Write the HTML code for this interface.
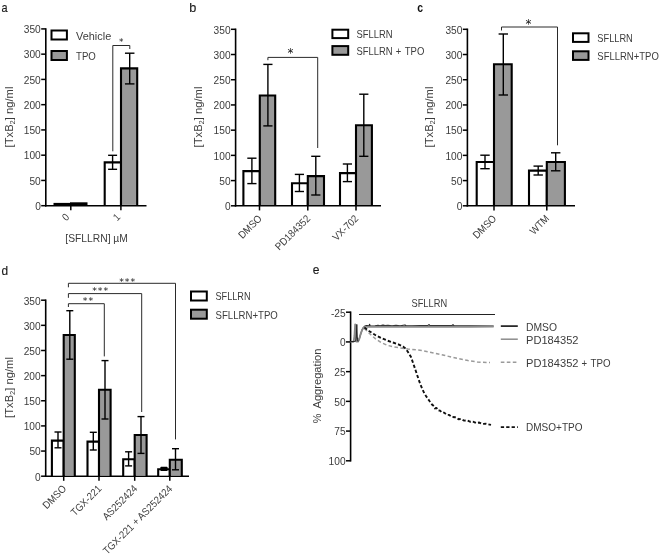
<!DOCTYPE html>
<html lang="en">
<head>
<meta charset="utf-8">
<title>Figure</title>
<style>
html,body{margin:0;padding:0;background:#fff;}
body{width:660px;height:555px;overflow:hidden;}
svg{display:block;}
svg text{font-family:"Liberation Sans","DejaVu Sans",sans-serif;}
</style>
</head>
<body>
<svg width="660" height="555" viewBox="0 0 660 555">
<rect x="0" y="0" width="660" height="555" fill="#fff"/>
<text x="1.5" y="12.3" font-size="12.7" text-anchor="start" fill="#1a1a1a" textLength="6.07" lengthAdjust="spacingAndGlyphs" stroke="#1a1a1a" stroke-width="0.15">a</text>
<line x1="45.8" y1="28.15" x2="45.8" y2="206.45" stroke="#000" stroke-width="1.6" />
<line x1="45" y1="205.7" x2="146.5" y2="205.7" stroke="#000" stroke-width="1.6" />
<line x1="41.2" y1="205.7" x2="45.8" y2="205.7" stroke="#000" stroke-width="1.5" />
<text x="40.8" y="210" font-size="10.6" text-anchor="end" fill="#3c3c3c" textLength="5.66" lengthAdjust="spacingAndGlyphs" >0</text>
<line x1="41.2" y1="180.44" x2="45.8" y2="180.44" stroke="#000" stroke-width="1.5" />
<text x="40.8" y="184.74" font-size="10.6" text-anchor="end" fill="#3c3c3c" textLength="11.32" lengthAdjust="spacingAndGlyphs" >50</text>
<line x1="41.2" y1="155.19" x2="45.8" y2="155.19" stroke="#000" stroke-width="1.5" />
<text x="40.8" y="159.49" font-size="10.6" text-anchor="end" fill="#3c3c3c" textLength="16.98" lengthAdjust="spacingAndGlyphs" >100</text>
<line x1="41.2" y1="129.93" x2="45.8" y2="129.93" stroke="#000" stroke-width="1.5" />
<text x="40.8" y="134.23" font-size="10.6" text-anchor="end" fill="#3c3c3c" textLength="16.98" lengthAdjust="spacingAndGlyphs" >150</text>
<line x1="41.2" y1="104.67" x2="45.8" y2="104.67" stroke="#000" stroke-width="1.5" />
<text x="40.8" y="108.97" font-size="10.6" text-anchor="end" fill="#3c3c3c" textLength="16.98" lengthAdjust="spacingAndGlyphs" >200</text>
<line x1="41.2" y1="79.41" x2="45.8" y2="79.41" stroke="#000" stroke-width="1.5" />
<text x="40.8" y="83.71" font-size="10.6" text-anchor="end" fill="#3c3c3c" textLength="16.98" lengthAdjust="spacingAndGlyphs" >250</text>
<line x1="41.2" y1="54.16" x2="45.8" y2="54.16" stroke="#000" stroke-width="1.5" />
<text x="40.8" y="58.46" font-size="10.6" text-anchor="end" fill="#3c3c3c" textLength="16.98" lengthAdjust="spacingAndGlyphs" >300</text>
<line x1="41.2" y1="28.9" x2="45.8" y2="28.9" stroke="#000" stroke-width="1.5" />
<text x="40.8" y="33.2" font-size="10.6" text-anchor="end" fill="#3c3c3c" textLength="16.98" lengthAdjust="spacingAndGlyphs" >350</text>
<line x1="70.8" y1="205.7" x2="70.8" y2="210.3" stroke="#000" stroke-width="1.5" />
<line x1="120.9" y1="205.7" x2="120.9" y2="210.3" stroke="#000" stroke-width="1.5" />
<rect x="53.5" y="202.9" width="17" height="2.4" fill="#000"/>
<rect x="70" y="202.3" width="17.5" height="3" fill="#000"/>
<rect x="104.7" y="162.35" width="16.3" height="42.55" fill="#fff"/>
<polyline points="104.7,205.7 104.7,162.35 121,162.35 121,205.7" fill="none" stroke="#000" stroke-width="2.1" stroke-linejoin="miter"/>
<rect x="121" y="68.4" width="16.2" height="136.5" fill="#999999"/>
<polyline points="121,205.7 121,68.4 137.2,68.4 137.2,205.7" fill="none" stroke="#000" stroke-width="2.1" stroke-linejoin="miter"/>
<line x1="112.6" y1="155.3" x2="112.6" y2="169.3" stroke="#000" stroke-width="1.4" />
<line x1="108.1" y1="155.3" x2="117.1" y2="155.3" stroke="#000" stroke-width="1.4" />
<line x1="108.1" y1="169.3" x2="117.1" y2="169.3" stroke="#000" stroke-width="1.4" />
<line x1="129.7" y1="53.2" x2="129.7" y2="83.9" stroke="#000" stroke-width="1.4" />
<line x1="124.95" y1="53.2" x2="134.45" y2="53.2" stroke="#000" stroke-width="1.4" />
<line x1="124.95" y1="83.9" x2="134.45" y2="83.9" stroke="#000" stroke-width="1.4" />
<polyline points="112.8,151.3 112.8,45.5 129.8,45.5 129.8,49" fill="none" stroke="#2a2a2a" stroke-width="1" />
<text x="118.9" y="44.65" font-size="8.8" fill="#111" letter-spacing="1.2" style="font-family:'DejaVu Sans',sans-serif">*</text>
<rect x="51.5" y="30.5" width="15.4" height="9" fill="#fff" stroke="#000" stroke-width="2"/>
<rect x="51.5" y="51" width="15.4" height="9" fill="#999999" stroke="#000" stroke-width="2"/>
<text x="76" y="39.5" font-size="10.5" text-anchor="start" fill="#3c3c3c" textLength="35.2" lengthAdjust="spacingAndGlyphs" >Vehicle</text>
<text x="76" y="60" font-size="10.5" text-anchor="start" fill="#3c3c3c" textLength="19.8" lengthAdjust="spacingAndGlyphs" >TPO</text>
<text x="66.3" y="221.5" font-size="10.5" text-anchor="start" fill="#3c3c3c" transform="rotate(-45 66.3 221.5)" textLength="5.26" lengthAdjust="spacingAndGlyphs" >0</text>
<text x="117.3" y="221.5" font-size="10.5" text-anchor="start" fill="#3c3c3c" transform="rotate(-45 117.3 221.5)" textLength="5.26" lengthAdjust="spacingAndGlyphs" >1</text>
<text x="65.3" y="241.8" font-size="10.8" text-anchor="start" fill="#3c3c3c" textLength="62.6" lengthAdjust="spacingAndGlyphs" >[SFLLRN] µM</text>
<text x="12.6" y="117" font-size="10.4" text-anchor="middle" fill="#3c3c3c" transform="rotate(-90 12.6 117)" textLength="60.8" lengthAdjust="spacingAndGlyphs">[TxB<tspan font-size="7" dy="2.2">2</tspan><tspan dy="-2.2">] ng/ml</tspan></text>
<text x="189.3" y="12.3" font-size="12.7" text-anchor="start" fill="#1a1a1a" stroke="#1a1a1a" stroke-width="0.15">b</text>
<line x1="235.6" y1="28.55" x2="235.6" y2="206.55" stroke="#000" stroke-width="1.6" />
<line x1="234.8" y1="205.8" x2="381" y2="205.8" stroke="#000" stroke-width="1.6" />
<line x1="231" y1="205.8" x2="235.6" y2="205.8" stroke="#000" stroke-width="1.5" />
<text x="230.6" y="210.1" font-size="10.6" text-anchor="end" fill="#3c3c3c" textLength="5.66" lengthAdjust="spacingAndGlyphs" >0</text>
<line x1="231" y1="180.59" x2="235.6" y2="180.59" stroke="#000" stroke-width="1.5" />
<text x="230.6" y="184.89" font-size="10.6" text-anchor="end" fill="#3c3c3c" textLength="11.32" lengthAdjust="spacingAndGlyphs" >50</text>
<line x1="231" y1="155.37" x2="235.6" y2="155.37" stroke="#000" stroke-width="1.5" />
<text x="230.6" y="159.67" font-size="10.6" text-anchor="end" fill="#3c3c3c" textLength="16.98" lengthAdjust="spacingAndGlyphs" >100</text>
<line x1="231" y1="130.16" x2="235.6" y2="130.16" stroke="#000" stroke-width="1.5" />
<text x="230.6" y="134.46" font-size="10.6" text-anchor="end" fill="#3c3c3c" textLength="16.98" lengthAdjust="spacingAndGlyphs" >150</text>
<line x1="231" y1="104.94" x2="235.6" y2="104.94" stroke="#000" stroke-width="1.5" />
<text x="230.6" y="109.24" font-size="10.6" text-anchor="end" fill="#3c3c3c" textLength="16.98" lengthAdjust="spacingAndGlyphs" >200</text>
<line x1="231" y1="79.73" x2="235.6" y2="79.73" stroke="#000" stroke-width="1.5" />
<text x="230.6" y="84.03" font-size="10.6" text-anchor="end" fill="#3c3c3c" textLength="16.98" lengthAdjust="spacingAndGlyphs" >250</text>
<line x1="231" y1="54.51" x2="235.6" y2="54.51" stroke="#000" stroke-width="1.5" />
<text x="230.6" y="58.81" font-size="10.6" text-anchor="end" fill="#3c3c3c" textLength="16.98" lengthAdjust="spacingAndGlyphs" >300</text>
<line x1="231" y1="29.3" x2="235.6" y2="29.3" stroke="#000" stroke-width="1.5" />
<text x="230.6" y="33.6" font-size="10.6" text-anchor="end" fill="#3c3c3c" textLength="16.98" lengthAdjust="spacingAndGlyphs" >350</text>
<line x1="259.5" y1="205.8" x2="259.5" y2="210.4" stroke="#000" stroke-width="1.5" />
<line x1="307.8" y1="205.8" x2="307.8" y2="210.4" stroke="#000" stroke-width="1.5" />
<line x1="356" y1="205.8" x2="356" y2="210.4" stroke="#000" stroke-width="1.5" />
<rect x="243.4" y="171.1" width="16.4" height="33.9" fill="#fff"/>
<polyline points="243.4,205.8 243.4,171.1 259.8,171.1 259.8,205.8" fill="none" stroke="#000" stroke-width="2.1" stroke-linejoin="miter"/>
<rect x="259.8" y="95.46" width="15.4" height="109.54" fill="#999999"/>
<polyline points="259.8,205.8 259.8,95.46 275.2,95.46 275.2,205.8" fill="none" stroke="#000" stroke-width="2.1" stroke-linejoin="miter"/>
<rect x="292" y="183.2" width="15.8" height="21.8" fill="#fff"/>
<polyline points="292,205.8 292,183.2 307.8,183.2 307.8,205.8" fill="none" stroke="#000" stroke-width="2.1" stroke-linejoin="miter"/>
<rect x="307.8" y="176.14" width="16.2" height="28.86" fill="#999999"/>
<polyline points="307.8,205.8 307.8,176.14 324,176.14 324,205.8" fill="none" stroke="#000" stroke-width="2.1" stroke-linejoin="miter"/>
<rect x="340" y="173.12" width="16" height="31.88" fill="#fff"/>
<polyline points="340,205.8 340,173.12 356,173.12 356,205.8" fill="none" stroke="#000" stroke-width="2.1" stroke-linejoin="miter"/>
<rect x="356" y="125.21" width="15.9" height="79.79" fill="#999999"/>
<polyline points="356,205.8 356,125.21 371.9,125.21 371.9,205.8" fill="none" stroke="#000" stroke-width="2.1" stroke-linejoin="miter"/>
<line x1="251.9" y1="158.2" x2="251.9" y2="183.6" stroke="#000" stroke-width="1.4" />
<line x1="247.3" y1="158.2" x2="256.5" y2="158.2" stroke="#000" stroke-width="1.4" />
<line x1="247.3" y1="183.6" x2="256.5" y2="183.6" stroke="#000" stroke-width="1.4" />
<line x1="267.9" y1="64.4" x2="267.9" y2="125.9" stroke="#000" stroke-width="1.4" />
<line x1="263.3" y1="64.4" x2="272.5" y2="64.4" stroke="#000" stroke-width="1.4" />
<line x1="263.3" y1="125.9" x2="272.5" y2="125.9" stroke="#000" stroke-width="1.4" />
<line x1="299.4" y1="174.4" x2="299.4" y2="191.5" stroke="#000" stroke-width="1.4" />
<line x1="294.8" y1="174.4" x2="304" y2="174.4" stroke="#000" stroke-width="1.4" />
<line x1="294.8" y1="191.5" x2="304" y2="191.5" stroke="#000" stroke-width="1.4" />
<line x1="315.8" y1="156.3" x2="315.8" y2="195" stroke="#000" stroke-width="1.4" />
<line x1="311.2" y1="156.3" x2="320.4" y2="156.3" stroke="#000" stroke-width="1.4" />
<line x1="311.2" y1="195" x2="320.4" y2="195" stroke="#000" stroke-width="1.4" />
<line x1="347.4" y1="164" x2="347.4" y2="181.6" stroke="#000" stroke-width="1.4" />
<line x1="342.8" y1="164" x2="352" y2="164" stroke="#000" stroke-width="1.4" />
<line x1="342.8" y1="181.6" x2="352" y2="181.6" stroke="#000" stroke-width="1.4" />
<line x1="363.8" y1="94.2" x2="363.8" y2="156.3" stroke="#000" stroke-width="1.4" />
<line x1="359.2" y1="94.2" x2="368.4" y2="94.2" stroke="#000" stroke-width="1.4" />
<line x1="359.2" y1="156.3" x2="368.4" y2="156.3" stroke="#000" stroke-width="1.4" />
<polyline points="267.9,60.2 267.9,57.4 317.7,57.4 317.7,148" fill="none" stroke="#2a2a2a" stroke-width="1" />
<text x="287.55" y="56.57" font-size="11.8" fill="#111" letter-spacing="-0.3" style="font-family:'DejaVu Sans',sans-serif">*</text>
<rect x="332.4" y="29.7" width="15.8" height="8.4" fill="#fff" stroke="#000" stroke-width="2"/>
<rect x="332.4" y="46.1" width="15.8" height="8.7" fill="#999999" stroke="#000" stroke-width="2"/>
<text x="356.5" y="37.8" font-size="10.2" text-anchor="start" fill="#3c3c3c" textLength="36.1" lengthAdjust="spacingAndGlyphs" >SFLLRN</text>
<text y="54.7" font-size="10.2" fill="#3c3c3c"><tspan x="356.5" textLength="36.1" lengthAdjust="spacingAndGlyphs">SFLLRN</tspan> <tspan x="395.8" textLength="5.5" lengthAdjust="spacingAndGlyphs">+</tspan> <tspan x="404.8" textLength="19.6" lengthAdjust="spacingAndGlyphs">TPO</tspan></text>
<text x="262.6" y="219.2" font-size="10.4" text-anchor="end" fill="#3c3c3c" transform="rotate(-45 262.6 219.2)" textLength="28.39" lengthAdjust="spacingAndGlyphs" >DMSO</text>
<text x="310.9" y="219.2" font-size="10.4" text-anchor="end" fill="#3c3c3c" transform="rotate(-45 310.9 219.2)" textLength="44.73" lengthAdjust="spacingAndGlyphs" >PD184352</text>
<text x="359.1" y="219.2" font-size="10.4" text-anchor="end" fill="#3c3c3c" transform="rotate(-45 359.1 219.2)" textLength="31.57" lengthAdjust="spacingAndGlyphs" >VX-702</text>
<text x="201.7" y="117" font-size="10.4" text-anchor="middle" fill="#3c3c3c" transform="rotate(-90 201.7 117)" textLength="60.8" lengthAdjust="spacingAndGlyphs">[TxB<tspan font-size="7" dy="2.2">2</tspan><tspan dy="-2.2">] ng/ml</tspan></text>
<text x="417.3" y="12.3" font-size="12.7" text-anchor="start" fill="#111" textLength="5.84" lengthAdjust="spacingAndGlyphs" font-weight="bold">c</text>
<line x1="467.4" y1="28.55" x2="467.4" y2="206.55" stroke="#000" stroke-width="1.6" />
<line x1="466.6" y1="205.8" x2="575" y2="205.8" stroke="#000" stroke-width="1.6" />
<line x1="462.8" y1="205.8" x2="467.4" y2="205.8" stroke="#000" stroke-width="1.5" />
<text x="462.4" y="210.1" font-size="10.6" text-anchor="end" fill="#3c3c3c" textLength="5.66" lengthAdjust="spacingAndGlyphs" >0</text>
<line x1="462.8" y1="180.59" x2="467.4" y2="180.59" stroke="#000" stroke-width="1.5" />
<text x="462.4" y="184.89" font-size="10.6" text-anchor="end" fill="#3c3c3c" textLength="11.32" lengthAdjust="spacingAndGlyphs" >50</text>
<line x1="462.8" y1="155.37" x2="467.4" y2="155.37" stroke="#000" stroke-width="1.5" />
<text x="462.4" y="159.67" font-size="10.6" text-anchor="end" fill="#3c3c3c" textLength="16.98" lengthAdjust="spacingAndGlyphs" >100</text>
<line x1="462.8" y1="130.16" x2="467.4" y2="130.16" stroke="#000" stroke-width="1.5" />
<text x="462.4" y="134.46" font-size="10.6" text-anchor="end" fill="#3c3c3c" textLength="16.98" lengthAdjust="spacingAndGlyphs" >150</text>
<line x1="462.8" y1="104.94" x2="467.4" y2="104.94" stroke="#000" stroke-width="1.5" />
<text x="462.4" y="109.24" font-size="10.6" text-anchor="end" fill="#3c3c3c" textLength="16.98" lengthAdjust="spacingAndGlyphs" >200</text>
<line x1="462.8" y1="79.73" x2="467.4" y2="79.73" stroke="#000" stroke-width="1.5" />
<text x="462.4" y="84.03" font-size="10.6" text-anchor="end" fill="#3c3c3c" textLength="16.98" lengthAdjust="spacingAndGlyphs" >250</text>
<line x1="462.8" y1="54.51" x2="467.4" y2="54.51" stroke="#000" stroke-width="1.5" />
<text x="462.4" y="58.81" font-size="10.6" text-anchor="end" fill="#3c3c3c" textLength="16.98" lengthAdjust="spacingAndGlyphs" >300</text>
<line x1="462.8" y1="29.3" x2="467.4" y2="29.3" stroke="#000" stroke-width="1.5" />
<text x="462.4" y="33.6" font-size="10.6" text-anchor="end" fill="#3c3c3c" textLength="16.98" lengthAdjust="spacingAndGlyphs" >350</text>
<line x1="494" y1="205.8" x2="494" y2="210.4" stroke="#000" stroke-width="1.5" />
<line x1="546.8" y1="205.8" x2="546.8" y2="210.4" stroke="#000" stroke-width="1.5" />
<rect x="476.7" y="162.02" width="17.3" height="42.98" fill="#fff"/>
<polyline points="476.7,205.8 476.7,162.02 494,162.02 494,205.8" fill="none" stroke="#000" stroke-width="2.1" stroke-linejoin="miter"/>
<rect x="494" y="64.19" width="17.7" height="140.81" fill="#999999"/>
<polyline points="494,205.8 494,64.19 511.7,64.19 511.7,205.8" fill="none" stroke="#000" stroke-width="2.1" stroke-linejoin="miter"/>
<rect x="529" y="170.6" width="17.8" height="34.4" fill="#fff"/>
<polyline points="529,205.8 529,170.6 546.8,170.6 546.8,205.8" fill="none" stroke="#000" stroke-width="2.1" stroke-linejoin="miter"/>
<rect x="546.8" y="162.02" width="18.1" height="42.98" fill="#999999"/>
<polyline points="546.8,205.8 546.8,162.02 564.9,162.02 564.9,205.8" fill="none" stroke="#000" stroke-width="2.1" stroke-linejoin="miter"/>
<line x1="485" y1="155.2" x2="485" y2="168.7" stroke="#000" stroke-width="1.4" />
<line x1="480.3" y1="155.2" x2="489.7" y2="155.2" stroke="#000" stroke-width="1.4" />
<line x1="480.3" y1="168.7" x2="489.7" y2="168.7" stroke="#000" stroke-width="1.4" />
<line x1="503.3" y1="34" x2="503.3" y2="95" stroke="#000" stroke-width="1.4" />
<line x1="498.6" y1="34" x2="508" y2="34" stroke="#000" stroke-width="1.4" />
<line x1="498.6" y1="95" x2="508" y2="95" stroke="#000" stroke-width="1.4" />
<line x1="538.2" y1="166.1" x2="538.2" y2="175" stroke="#000" stroke-width="1.4" />
<line x1="533.5" y1="166.1" x2="542.9" y2="166.1" stroke="#000" stroke-width="1.4" />
<line x1="533.5" y1="175" x2="542.9" y2="175" stroke="#000" stroke-width="1.4" />
<line x1="555.7" y1="152.8" x2="555.7" y2="170.8" stroke="#000" stroke-width="1.4" />
<line x1="551" y1="152.8" x2="560.4" y2="152.8" stroke="#000" stroke-width="1.4" />
<line x1="551" y1="170.8" x2="560.4" y2="170.8" stroke="#000" stroke-width="1.4" />
<polyline points="501.5,30.5 501.5,27 557.5,27 557.5,145.3" fill="none" stroke="#2a2a2a" stroke-width="1" />
<text x="525.55" y="27.57" font-size="11.8" fill="#111" letter-spacing="-0.3" style="font-family:'DejaVu Sans',sans-serif">*</text>
<rect x="573" y="33.3" width="15.5" height="8.6" fill="#fff" stroke="#000" stroke-width="2"/>
<rect x="573" y="51.3" width="15.5" height="8.6" fill="#999999" stroke="#000" stroke-width="2"/>
<text x="597.3" y="41.7" font-size="10.5" text-anchor="start" fill="#3c3c3c" textLength="35.5" lengthAdjust="spacingAndGlyphs" >SFLLRN</text>
<text x="597.3" y="59.7" font-size="10.5" text-anchor="start" fill="#3c3c3c" textLength="61.5" lengthAdjust="spacingAndGlyphs" >SFLLRN+TPO</text>
<text x="497.1" y="219.2" font-size="10.4" text-anchor="end" fill="#3c3c3c" transform="rotate(-45 497.1 219.2)" textLength="28.39" lengthAdjust="spacingAndGlyphs" >DMSO</text>
<text x="549.9" y="219.2" font-size="10.4" text-anchor="end" fill="#3c3c3c" transform="rotate(-45 549.9 219.2)" textLength="22.6" lengthAdjust="spacingAndGlyphs" >WTM</text>
<text x="433.3" y="117" font-size="10.4" text-anchor="middle" fill="#3c3c3c" transform="rotate(-90 433.3 117)" textLength="60.8" lengthAdjust="spacingAndGlyphs">[TxB<tspan font-size="7" dy="2.2">2</tspan><tspan dy="-2.2">] ng/ml</tspan></text>
<text x="1.5" y="275.2" font-size="12.5" text-anchor="start" fill="#1a1a1a" textLength="6.6" lengthAdjust="spacingAndGlyphs" stroke="#1a1a1a" stroke-width="0.15">d</text>
<line x1="45.7" y1="299.45" x2="45.7" y2="476.95" stroke="#000" stroke-width="1.6" />
<line x1="44.9" y1="476.2" x2="189" y2="476.2" stroke="#000" stroke-width="1.6" />
<line x1="41.1" y1="476.2" x2="45.7" y2="476.2" stroke="#000" stroke-width="1.5" />
<text x="40.7" y="480.5" font-size="10.6" text-anchor="end" fill="#3c3c3c" textLength="5.66" lengthAdjust="spacingAndGlyphs" >0</text>
<line x1="41.1" y1="451.06" x2="45.7" y2="451.06" stroke="#000" stroke-width="1.5" />
<text x="40.7" y="455.36" font-size="10.6" text-anchor="end" fill="#3c3c3c" textLength="11.32" lengthAdjust="spacingAndGlyphs" >50</text>
<line x1="41.1" y1="425.91" x2="45.7" y2="425.91" stroke="#000" stroke-width="1.5" />
<text x="40.7" y="430.21" font-size="10.6" text-anchor="end" fill="#3c3c3c" textLength="16.98" lengthAdjust="spacingAndGlyphs" >100</text>
<line x1="41.1" y1="400.77" x2="45.7" y2="400.77" stroke="#000" stroke-width="1.5" />
<text x="40.7" y="405.07" font-size="10.6" text-anchor="end" fill="#3c3c3c" textLength="16.98" lengthAdjust="spacingAndGlyphs" >150</text>
<line x1="41.1" y1="375.63" x2="45.7" y2="375.63" stroke="#000" stroke-width="1.5" />
<text x="40.7" y="379.93" font-size="10.6" text-anchor="end" fill="#3c3c3c" textLength="16.98" lengthAdjust="spacingAndGlyphs" >200</text>
<line x1="41.1" y1="350.49" x2="45.7" y2="350.49" stroke="#000" stroke-width="1.5" />
<text x="40.7" y="354.79" font-size="10.6" text-anchor="end" fill="#3c3c3c" textLength="16.98" lengthAdjust="spacingAndGlyphs" >250</text>
<line x1="41.1" y1="325.34" x2="45.7" y2="325.34" stroke="#000" stroke-width="1.5" />
<text x="40.7" y="329.64" font-size="10.6" text-anchor="end" fill="#3c3c3c" textLength="16.98" lengthAdjust="spacingAndGlyphs" >300</text>
<line x1="41.1" y1="300.2" x2="45.7" y2="300.2" stroke="#000" stroke-width="1.5" />
<text x="40.7" y="304.5" font-size="10.6" text-anchor="end" fill="#3c3c3c" textLength="16.98" lengthAdjust="spacingAndGlyphs" >350</text>
<line x1="63.7" y1="476.2" x2="63.7" y2="480.8" stroke="#000" stroke-width="1.5" />
<line x1="99" y1="476.2" x2="99" y2="480.8" stroke="#000" stroke-width="1.5" />
<line x1="134.7" y1="476.2" x2="134.7" y2="480.8" stroke="#000" stroke-width="1.5" />
<line x1="169.8" y1="476.2" x2="169.8" y2="480.8" stroke="#000" stroke-width="1.5" />
<rect x="51.9" y="440.59" width="11.8" height="34.81" fill="#fff"/>
<polyline points="51.9,476.2 51.9,440.59 63.7,440.59 63.7,476.2" fill="none" stroke="#000" stroke-width="2.1" stroke-linejoin="miter"/>
<rect x="63.7" y="334.99" width="11.1" height="140.41" fill="#999999"/>
<polyline points="63.7,476.2 63.7,334.99 74.8,334.99 74.8,476.2" fill="none" stroke="#000" stroke-width="2.1" stroke-linejoin="miter"/>
<rect x="87.5" y="441.6" width="11.5" height="33.8" fill="#fff"/>
<polyline points="87.5,476.2 87.5,441.6 99,441.6 99,476.2" fill="none" stroke="#000" stroke-width="2.1" stroke-linejoin="miter"/>
<rect x="99" y="389.81" width="11.6" height="85.59" fill="#999999"/>
<polyline points="99,476.2 99,389.81 110.6,389.81 110.6,476.2" fill="none" stroke="#000" stroke-width="2.1" stroke-linejoin="miter"/>
<rect x="123.2" y="459.2" width="11.5" height="16.2" fill="#fff"/>
<polyline points="123.2,476.2 123.2,459.2 134.7,459.2 134.7,476.2" fill="none" stroke="#000" stroke-width="2.1" stroke-linejoin="miter"/>
<rect x="134.7" y="435.06" width="11.9" height="40.34" fill="#999999"/>
<polyline points="134.7,476.2 134.7,435.06 146.6,435.06 146.6,476.2" fill="none" stroke="#000" stroke-width="2.1" stroke-linejoin="miter"/>
<rect x="158.2" y="469.26" width="11.6" height="6.14" fill="#fff"/>
<polyline points="158.2,476.2 158.2,469.26 169.8,469.26 169.8,476.2" fill="none" stroke="#000" stroke-width="2.1" stroke-linejoin="miter"/>
<rect x="169.8" y="459.7" width="12" height="15.7" fill="#999999"/>
<polyline points="169.8,476.2 169.8,459.7 181.8,459.7 181.8,476.2" fill="none" stroke="#000" stroke-width="2.1" stroke-linejoin="miter"/>
<line x1="58" y1="432" x2="58" y2="447.8" stroke="#000" stroke-width="1.4" />
<line x1="54.5" y1="432" x2="61.5" y2="432" stroke="#000" stroke-width="1.4" />
<line x1="54.5" y1="447.8" x2="61.5" y2="447.8" stroke="#000" stroke-width="1.4" />
<line x1="69.8" y1="310.7" x2="69.8" y2="359.2" stroke="#000" stroke-width="1.4" />
<line x1="66.3" y1="310.7" x2="73.3" y2="310.7" stroke="#000" stroke-width="1.4" />
<line x1="66.3" y1="359.2" x2="73.3" y2="359.2" stroke="#000" stroke-width="1.4" />
<line x1="93.3" y1="432.3" x2="93.3" y2="450" stroke="#000" stroke-width="1.4" />
<line x1="89.8" y1="432.3" x2="96.8" y2="432.3" stroke="#000" stroke-width="1.4" />
<line x1="89.8" y1="450" x2="96.8" y2="450" stroke="#000" stroke-width="1.4" />
<line x1="105" y1="360.6" x2="105" y2="419" stroke="#000" stroke-width="1.4" />
<line x1="101.5" y1="360.6" x2="108.5" y2="360.6" stroke="#000" stroke-width="1.4" />
<line x1="101.5" y1="419" x2="108.5" y2="419" stroke="#000" stroke-width="1.4" />
<line x1="128.6" y1="451.8" x2="128.6" y2="465.9" stroke="#000" stroke-width="1.4" />
<line x1="125.1" y1="451.8" x2="132.1" y2="451.8" stroke="#000" stroke-width="1.4" />
<line x1="125.1" y1="465.9" x2="132.1" y2="465.9" stroke="#000" stroke-width="1.4" />
<line x1="141" y1="416.6" x2="141" y2="453.4" stroke="#000" stroke-width="1.4" />
<line x1="137.5" y1="416.6" x2="144.5" y2="416.6" stroke="#000" stroke-width="1.4" />
<line x1="137.5" y1="453.4" x2="144.5" y2="453.4" stroke="#000" stroke-width="1.4" />
<rect x="160.4" y="466.8" width="7.2" height="4.3" rx="0.8" fill="#000"/>
<line x1="175.5" y1="448.7" x2="175.5" y2="469.8" stroke="#000" stroke-width="1.4" />
<line x1="172" y1="448.7" x2="179" y2="448.7" stroke="#000" stroke-width="1.4" />
<line x1="172" y1="469.8" x2="179" y2="469.8" stroke="#000" stroke-width="1.4" />
<polyline points="68.4,307 68.4,303.7 104.3,303.7 104.3,356.4" fill="none" stroke="#2a2a2a" stroke-width="1" />
<polyline points="68.4,297.8 68.4,293.6 141.7,293.6 141.7,412" fill="none" stroke="#2a2a2a" stroke-width="1" />
<polyline points="68.4,287.3 68.4,283.3 175.5,283.3 175.5,439.4" fill="none" stroke="#2a2a2a" stroke-width="1" />
<text x="82.85" y="304.48" font-size="9.4" fill="#111" letter-spacing="0.9" style="font-family:'DejaVu Sans',sans-serif">**</text>
<text x="92.25" y="293.78" font-size="9.4" fill="#111" letter-spacing="0.9" style="font-family:'DejaVu Sans',sans-serif">***</text>
<text x="119.25" y="285.38" font-size="9.4" fill="#111" letter-spacing="0.9" style="font-family:'DejaVu Sans',sans-serif">***</text>
<rect x="191" y="291.5" width="15.8" height="9" fill="#fff" stroke="#000" stroke-width="2"/>
<rect x="191" y="309.7" width="15.8" height="9" fill="#999999" stroke="#000" stroke-width="2"/>
<text x="215.5" y="300.4" font-size="10.6" text-anchor="start" fill="#3c3c3c" textLength="35" lengthAdjust="spacingAndGlyphs" >SFLLRN</text>
<text x="215.5" y="318.6" font-size="10.6" text-anchor="start" fill="#3c3c3c" textLength="62.3" lengthAdjust="spacingAndGlyphs" >SFLLRN+TPO</text>
<text x="66.9" y="489.4" font-size="10.4" text-anchor="end" fill="#3c3c3c" transform="rotate(-45 66.9 489.4)" textLength="28.39" lengthAdjust="spacingAndGlyphs" >DMSO</text>
<text x="102.2" y="489.4" font-size="10.4" text-anchor="end" fill="#3c3c3c" transform="rotate(-45 102.2 489.4)" textLength="38.4" lengthAdjust="spacingAndGlyphs" >TGX-221</text>
<text x="137.9" y="489.4" font-size="10.4" text-anchor="end" fill="#3c3c3c" transform="rotate(-45 137.9 489.4)" textLength="44.21" lengthAdjust="spacingAndGlyphs" >AS252424</text>
<text x="172.9" y="489.4" font-size="10.4" text-anchor="end" fill="#3c3c3c" transform="rotate(-45 172.9 489.4)" textLength="92.87" lengthAdjust="spacingAndGlyphs" >TGX-221 + AS252424</text>
<text x="12.6" y="387.5" font-size="10.4" text-anchor="middle" fill="#3c3c3c" transform="rotate(-90 12.6 387.5)" textLength="60.8" lengthAdjust="spacingAndGlyphs">[TxB<tspan font-size="7" dy="2.2">2</tspan><tspan dy="-2.2">] ng/ml</tspan></text>
<text x="312.7" y="273.9" font-size="13.4" text-anchor="start" fill="#1a1a1a" textLength="6.71" lengthAdjust="spacingAndGlyphs" stroke="#1a1a1a" stroke-width="0.15">e</text>
<line x1="350.6" y1="311.45" x2="350.6" y2="461.55" stroke="#000" stroke-width="1.6" />
<line x1="346" y1="460.8" x2="350.6" y2="460.8" stroke="#000" stroke-width="1.5" />
<text x="345.6" y="465.1" font-size="10.6" text-anchor="end" fill="#3c3c3c" textLength="16.98" lengthAdjust="spacingAndGlyphs" >100</text>
<line x1="346" y1="431.08" x2="350.6" y2="431.08" stroke="#000" stroke-width="1.5" />
<text x="345.6" y="435.38" font-size="10.6" text-anchor="end" fill="#3c3c3c" textLength="11.32" lengthAdjust="spacingAndGlyphs" >75</text>
<line x1="346" y1="401.36" x2="350.6" y2="401.36" stroke="#000" stroke-width="1.5" />
<text x="345.6" y="405.66" font-size="10.6" text-anchor="end" fill="#3c3c3c" textLength="11.32" lengthAdjust="spacingAndGlyphs" >50</text>
<line x1="346" y1="371.64" x2="350.6" y2="371.64" stroke="#000" stroke-width="1.5" />
<text x="345.6" y="375.94" font-size="10.6" text-anchor="end" fill="#3c3c3c" textLength="11.32" lengthAdjust="spacingAndGlyphs" >25</text>
<line x1="346" y1="341.92" x2="350.6" y2="341.92" stroke="#000" stroke-width="1.5" />
<text x="345.6" y="346.22" font-size="10.6" text-anchor="end" fill="#3c3c3c" textLength="5.66" lengthAdjust="spacingAndGlyphs" >0</text>
<line x1="346" y1="312.2" x2="350.6" y2="312.2" stroke="#000" stroke-width="1.5" />
<text x="345.6" y="316.5" font-size="10.6" text-anchor="end" fill="#3c3c3c" textLength="14.71" lengthAdjust="spacingAndGlyphs" >-25</text>
<text transform="translate(321.2 423.2) rotate(-90)" font-size="10.3" fill="#3c3c3c"><tspan x="0" textLength="9.7" lengthAdjust="spacingAndGlyphs">%</tspan> <tspan x="14.7" textLength="60" lengthAdjust="spacingAndGlyphs">Aggregation</tspan></text>
<line x1="359" y1="314.5" x2="495" y2="314.5" stroke="#222" stroke-width="1.0" />
<text x="411.5" y="306.6" font-size="10.5" text-anchor="start" fill="#3c3c3c" textLength="35.6" lengthAdjust="spacingAndGlyphs" >SFLLRN</text>
<polyline points="358.2,341 358.9,340 360.3,335.3 361.8,330.6 363.3,327.6 364.8,326.1 367,325.7 369,326 369.6,324.4 370.2,326 375,325.9 378,325.3 380,325.9 383,325.2 385,325.7 388,325.3 392,325.8 396,325.4 400,325.8 405,325 406,325.8 412,325.8 420,325.6 428,325.4 429,324.6 430,325.7 440,325.7 452,325.5 453,324.8 454,325.7 470,325.8 493.7,326" fill="none" stroke="#1a1a1a" stroke-width="1.2" stroke-linejoin="round"/>
<polyline points="350.6,342 353.6,341.7 354.5,336 355.2,324.4 355.9,336 356.5,341.6 358,341.6 359.4,338.5 360.8,333.5 362.2,329.8 363.7,327.8 365.2,326.9 370,326.7 380,326.8 400,326.8 440,326.7 470,326.7 493.7,326.6" fill="none" stroke="#8a8a8a" stroke-width="1.9" stroke-linejoin="round"/>
<polyline points="350.6,341.6 355.6,341.3 356.3,337 356.8,324.4 357.3,337 357.8,341.2 358.4,341" fill="none" stroke="#222" stroke-width="1.0" stroke-linejoin="round"/>
<polyline points="364.4,328.5 370,334 375.3,338.6 381,342.5 387.4,345.3 393,346.8 399.5,347.8 408,349 411.7,349.4 422.6,350.6 435,353.2 447,356 458.6,358.6 468,360.6 477.3,362 490,362.6" fill="none" stroke="#9a9a9a" stroke-width="1.5" stroke-dasharray="3.6 2.4"/>
<polyline points="364.4,327.5 369,331 375.3,335 381,338 387.4,340.6 393,342.5 399.5,344.8 403,346.5 405.6,348.5 408,352 411,357 414,365.6 416.5,373 418.7,379.7 421,386 423.4,391.4 426,396 429.3,400.8 432,404.5 434,406.2 435,408.3 436.5,408 438,410.4 440,410.6 442,412.6 444,412.6 446.9,414.8 449,414.9 452,417 455,417.2 458.6,419.2 461,419 464,420.6 467,420.4 470.3,421.8 473,421.6 476,423 479,422.6 482,423.9 486,423.8 491,424.9" fill="none" stroke="#111" stroke-width="1.9" stroke-dasharray="3.3 2.1"/>
<line x1="500.8" y1="326.1" x2="517.8" y2="326.1" stroke="#111" stroke-width="1.6" />
<line x1="500.8" y1="339.2" x2="517.8" y2="339.2" stroke="#8c8c8c" stroke-width="1.5" />
<line x1="500.8" y1="362.3" x2="517.8" y2="362.3" stroke="#9a9a9a" stroke-width="1.5" stroke-dasharray="3.6 2.4"/>
<line x1="500.8" y1="427.1" x2="517.8" y2="427.1" stroke="#111" stroke-width="1.9" stroke-dasharray="3.3 2.1"/>
<text x="526" y="330.5" font-size="10" text-anchor="start" fill="#3c3c3c" textLength="31" lengthAdjust="spacingAndGlyphs" >DMSO</text>
<text x="526" y="343.8" font-size="10.2" text-anchor="start" fill="#3c3c3c" textLength="52.5" lengthAdjust="spacingAndGlyphs" >PD184352</text>
<text y="366.5" font-size="10.2" fill="#3c3c3c"><tspan x="526" textLength="52.5" lengthAdjust="spacingAndGlyphs">PD184352</tspan> <tspan x="581.5" textLength="5.6" lengthAdjust="spacingAndGlyphs">+</tspan> <tspan x="590.5" textLength="20" lengthAdjust="spacingAndGlyphs">TPO</tspan></text>
<text x="526" y="431.4" font-size="10.2" text-anchor="start" fill="#3c3c3c" textLength="56.5" lengthAdjust="spacingAndGlyphs" >DMSO+TPO</text>
</svg>
</body>
</html>
